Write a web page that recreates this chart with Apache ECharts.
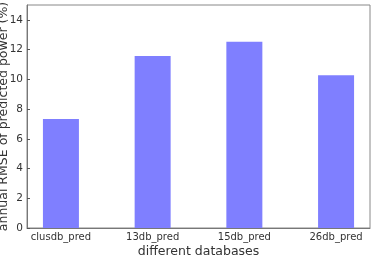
<!DOCTYPE html>
<html>
<head>
<meta charset="utf-8">
<script src="https://cdn.jsdelivr.net/npm/echarts@6/dist/echarts.min.js"></script>
<style>
  html, body { margin: 0; padding: 0; background: #fff; }
  #chart { width: 374px; height: 262px; }
</style>
</head>
<body>
<div id="chart"></div>
<script>
const categories = ['clusdb_pred', '13db_pred', '15db_pred', '26db_pred'];
const rmseValues = [7.33, 11.57, 12.52, 10.27];
const yTicks = [0, 2, 4, 6, 8, 10, 12, 14];

const chart = echarts.init(document.getElementById('chart'));
const font = 'DejaVu Sans';

const option = {
    animation: false,
    grid: {
        left: 27, right: 4, top: 5, bottom: 34,
        outerBoundsMode: 'none',
        containLabel: false,
        show: true, borderColor: '#888', borderWidth: 1
    },
    xAxis: {
        type: 'value',
        min: -0.37,
        max: 3.37,
        name: 'different databases',
        nameLocation: 'middle',
        nameGap: 17,
        nameMoveOverlap: false,
        nameTextStyle: { fontFamily: font, fontSize: 12.5, color: '#333' },
        axisLine: { show: true, onZero: false, lineStyle: { color: '#777' } },
        axisTick: {
            show: true, inside: true, length: 3,
            customValues: [0, 1, 2, 3],
            lineStyle: { color: '#555' }
        },
        axisLabel: {
            customValues: [0, 1, 2, 3],
            fontFamily: font, fontSize: 10, color: '#333', margin: 4,
            formatter: v => categories[Math.round(v)]
        },
        splitLine: { show: false }
    },
    yAxis: {
        type: 'value',
        min: 0,
        max: 15,
        name: 'annual RMSE of predicted power (%)',
        nameLocation: 'middle',
        nameGap: 17,
        nameMoveOverlap: false,
        nameTextStyle: { fontFamily: font, fontSize: 12.5, color: '#333' },
        axisLine: { show: true, onZero: false, lineStyle: { color: '#777' } },
        axisTick: {
            show: true, inside: true, length: 3,
            customValues: yTicks,
            lineStyle: { color: '#555' }
        },
        axisLabel: {
            customValues: yTicks,
            fontFamily: font, fontSize: 10.5, color: '#333', margin: 4
        },
        splitLine: { show: false }
    },
    series: [{
        type: 'bar',
        barWidth: 36,
        data: rmseValues.map((v, i) => [i, v]),
        itemStyle: { color: '#7f7fff' }
    }]
};

chart.setOption(option);
</script>
</body>
</html>
